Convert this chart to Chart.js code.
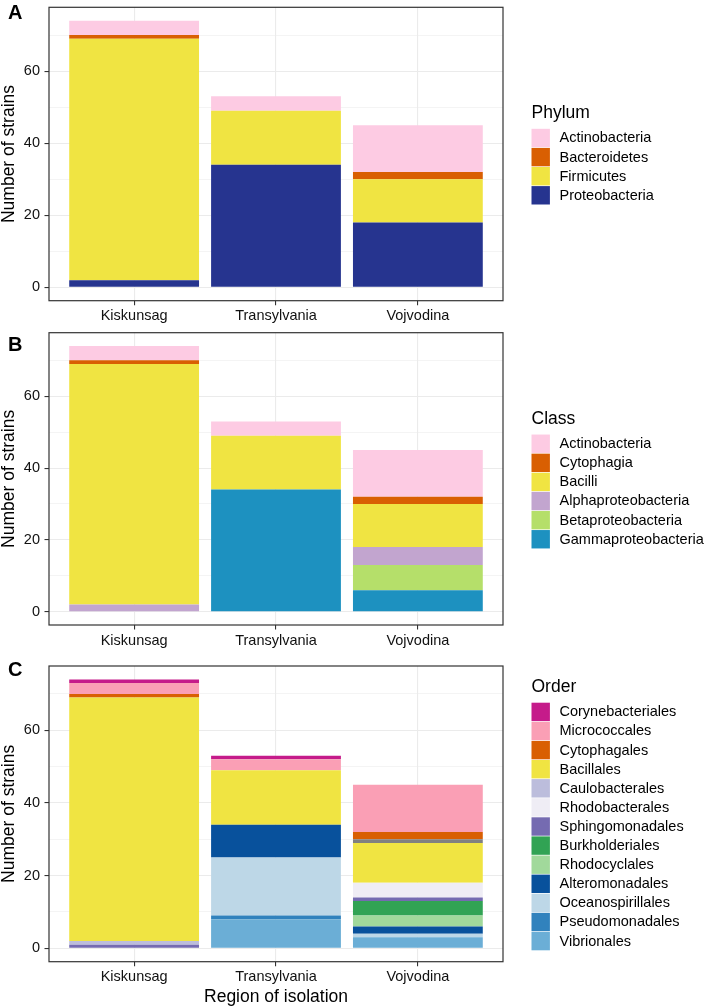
<!DOCTYPE html>
<html>
<head>
  <title>Strains by region of isolation</title>
  <script src="https://cdn.jsdelivr.net/npm/chart.js"></script>
  <style>
    body { margin: 0; background: #fff; }
    canvas { position: absolute; left: 0; }
  </style>
</head>
<body>
  <canvas id="phylumChart" width="709" height="326" style="top:0px"></canvas>
  <canvas id="classChart" width="709" height="325" style="top:326px"></canvas>
  <canvas id="orderChart" width="709" height="356" style="top:651px"></canvas>

  <script>
    const regions = ['Kiskunsag', 'Transylvania', 'Vojvodina'];
    const yTicks = [0, 10, 20, 30, 40, 50, 60, 70];

    // Phylum, bottom of the stack first
    const phylumNames = ['Proteobacteria', 'Firmicutes', 'Bacteroidetes', 'Actinobacteria'];
    const phyProteobacteria = [2, 34, 18];
    const phyFirmicutes = [67, 15, 12];
    const phyBacteroidetes = [1, 0, 2];
    const phyActinobacteria = [4, 4, 13];

    // Class
    const classNames = ['Gammaproteobacteria', 'Betaproteobacteria', 'Alphaproteobacteria', 'Bacilli', 'Cytophagia', 'Actinobacteria'];
    const clsGamma = [0, 34, 6];
    const clsBeta = [0, 0, 7];
    const clsAlpha = [2, 0, 5];
    const clsBacilli = [67, 15, 12];
    const clsCytophagia = [1, 0, 2];
    const clsActinobacteria = [4, 4, 13];

    // Order (the grey band has no legend entry)
    const orderNames = ['Vibrionales', 'Pseudomonadales', 'Oceanospirillales', 'Alteromonadales', 'Rhodocyclales',
      'Burkholderiales', 'Sphingomonadales', 'Rhodobacterales', 'Caulobacterales', 'Bacillales', 'NA',
      'Cytophagales', 'Micrococcales', 'Corynebacteriales'];
    const ordVibrionales = [0, 8, 3];
    const ordPseudomonadales = [0, 1, 0];
    const ordOceanospirillales = [0, 16, 1];
    const ordAlteromonadales = [0, 9, 2];
    const ordRhodocyclales = [0, 0, 3];
    const ordBurkholderiales = [0, 0, 4];
    const ordSphingomonadales = [1, 0, 1];
    const ordRhodobacterales = [0, 0, 4];
    const ordCaulobacterales = [1, 0, 0];
    const ordBacillales = [67, 15, 11];
    const ordUnassigned = [0, 0, 1];
    const ordCytophagales = [1, 0, 2];
    const ordMicrococcales = [3, 3, 13];
    const ordCorynebacteriales = [1, 1, 0];

    const phylumColors = ['#26348F', '#F0E442', '#D95F02', '#FDCBE3'];
    const classColors = ['#1D91C0', '#B5DF6A', '#C2A5CF', '#F0E442', '#D95F02', '#FDCBE3'];
    const orderColors = ['#6BAED6', '#3182BD', '#BDD7E7', '#08519C', '#A1D99B', '#31A354', '#756BB1',
      '#EFEDF5', '#BCBDDC', '#F0E442', '#808080', '#D95F02', '#FA9FB5', '#C51B8A'];

    const FONT = 'Liberation Sans, Arial, Helvetica, sans-serif';

    // border, panel letter and a ggplot-like legend
    const panelDecor = {
      id: 'panelDecor',
      afterDatasetsDraw(chart, args, opts) {
        const ctx = chart.ctx;
        const a = chart.chartArea;
        ctx.save();
        ctx.strokeStyle = '#333333';
        ctx.lineWidth = 1.2;
        ctx.strokeRect(a.left, a.top, a.right - a.left, a.bottom - a.top);

        ctx.fillStyle = '#000';
        ctx.font = 'bold 20px ' + FONT;
        ctx.textBaseline = 'middle';
        ctx.textAlign = 'left';
        ctx.fillText(opts.letter, 8, opts.letterY);

        const items = chart.data.datasets.filter(d => d.inLegend !== false).reverse();
        const step = 19.1;
        const titleBlock = 26;
        const total = titleBlock + step * items.length;
        const top = (a.top + a.bottom) / 2 - total / 2;
        const x0 = a.right + 28.5;

        ctx.font = '17.5px ' + FONT;
        ctx.fillText(opts.title, x0, top + 10.5);

        ctx.font = '14.5px ' + FONT;
        items.forEach((d, i) => {
          const y = top + titleBlock + i * step;
          ctx.fillStyle = d.backgroundColor;
          ctx.fillRect(x0, y, 18.4, 18.4);
          ctx.fillStyle = '#000';
          ctx.fillText(d.label, x0 + 28, y + 9.6);
        });
        ctx.restore();
      }
    };

    function makeChart(id, names, series, colors, cfg) {
      const datasets = series.map((vals, i) => ({
        label: names[i],
        data: vals.map((v, j) => ({ x: j + 1, y: v })),
        backgroundColor: colors[i],
        borderWidth: 0,
        inLegend: names[i] !== 'NA',
        barPercentage: 0.915,
        categoryPercentage: 1
      }));

      return new Chart(document.getElementById(id), {
        type: 'bar',
        data: { datasets: datasets },
        plugins: [panelDecor],
        options: {
          responsive: false,
          animation: false,
          layout: { padding: { top: cfg.padTop, right: 206, left: 0, bottom: 0 } },
          plugins: {
            legend: { display: false },
            tooltip: { enabled: false },
            panelDecor: { letter: cfg.letter, letterY: cfg.letterY, title: cfg.title }
          },
          scales: {
            x: {
              type: 'linear',
              min: 0.4,
              max: 3.6,
              offset: false,
              stacked: true,
              afterBuildTicks: s => { s.ticks = regions.map((r, i) => ({ value: i + 1 })); },
              afterFit: s => { s.height = cfg.xHeight; s.paddingLeft = 0; s.paddingRight = 0; },
              ticks: {
                callback: v => regions[v - 1],
                color: '#111',
                font: { family: FONT, size: 14.5 },
                padding: 2.5,
                maxRotation: 0,
                autoSkip: false
              },
              grid: { offset: false, color: '#EBEBEB', lineWidth: 1.1, tickColor: '#333333', tickWidth: 1.1, tickLength: 4.5 },
              border: { display: false },
              title: {
                display: cfg.xTitle,
                text: 'Region of isolation',
                color: '#000',
                font: { family: FONT, size: 17.5, lineHeight: 1.15 },
                padding: 0
              }
            },
            y: {
              min: -3.7,
              max: 77.7,
              stacked: true,
              afterBuildTicks: s => { s.ticks = yTicks.map(v => ({ value: v })); },
              afterFit: s => { s.width = 49; s.paddingTop = 0; s.paddingBottom = 0; },
              ticks: {
                callback: v => (v % 20 === 0 ? v : ''),
                color: '#111',
                font: { family: FONT, size: 14.5 },
                padding: 4.5
              },
              grid: {
                color: '#EBEBEB',
                lineWidth: c => (c.tick && c.tick.value % 20 === 0 ? 1.1 : 0.55),
                tickColor: c => (c.tick && c.tick.value % 20 === 0 ? '#333333' : 'rgba(0,0,0,0)'),
                tickWidth: 1.1,
                tickLength: 4.5
              },
              border: { display: false },
              title: {
                display: true,
                text: 'Number of strains',
                color: '#000',
                font: { family: FONT, size: 17.5, lineHeight: 1.05 },
                padding: 0
              }
            }
          }
        }
      });
    }

    makeChart('phylumChart', phylumNames,
      [phyProteobacteria, phyFirmicutes, phyBacteroidetes, phyActinobacteria],
      phylumColors, { padTop: 7.3, xHeight: 25.3, xTitle: false, letter: 'A', letterY: 13.3, title: 'Phylum' });

    makeChart('classChart', classNames,
      [clsGamma, clsBeta, clsAlpha, clsBacilli, clsCytophagia, clsActinobacteria],
      classColors, { padTop: 6.7, xHeight: 26, xTitle: false, letter: 'B', letterY: 19.8, title: 'Class' });

    makeChart('orderChart', orderNames,
      [ordVibrionales, ordPseudomonadales, ordOceanospirillales, ordAlteromonadales, ordRhodocyclales,
        ordBurkholderiales, ordSphingomonadales, ordRhodobacterales, ordCaulobacterales, ordBacillales,
        ordUnassigned, ordCytophagales, ordMicrococcales, ordCorynebacteriales],
      orderColors, { padTop: 15, xHeight: 45.3, xTitle: true, letter: 'C', letterY: 19, title: 'Order' });
  </script>
</body>
</html>
